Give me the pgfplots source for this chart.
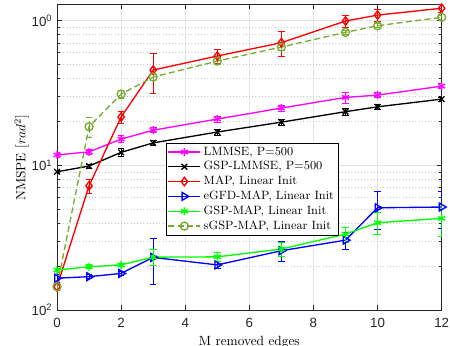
\documentclass[border=0pt]{standalone}
\usepackage{fontspec}
\usepackage{pgfplots}
\usepackage{pgfplotstable}
\pgfplotsset{compat=1.18}
\newfontfamily\ticksans{Liberation Sans}
\definecolor{mag}{RGB}{255,0,255}
\definecolor{oliv}{RGB}{119,172,48}
\definecolor{mgray}{RGB}{38,38,38}

\pgfplotstableread{
x y e
0 0.118 0.004
1 0.124 0.005
2 0.152 0.008
3 0.175 0.007
5 0.209 0.010
7 0.249 0.012
9 0.295 0.025
10 0.306 0.012
12 0.353 0.015
}\lmmse
\pgfplotstableread{
x y e
0 0.0903 0.002
1 0.0989 0.003
2 0.123 0.008
3 0.143 0.006
5 0.170 0.008
7 0.199 0.010
9 0.235 0.014
10 0.254 0.010
12 0.287 0.010
}\gsplmmse
\pgfplotstableread{
x y e
0 0.0145 0.0008
1 0.0722 0.008
2 0.216 0.02
3 0.456 0.14
5 0.570 0.06
7 0.705 0.14
9 0.995 0.10
10 1.094 0.10
12 1.219 0.08
}\map
\pgfplotstableread{
x y e
0 0.0166 0.0010
1 0.0170 0.0005
2 0.0179 0.0005
3 0.0231 0.008
5 0.0205 0.001
7 0.0257 0.004
9 0.0304 0.004
10 0.0509 0.015
12 0.0515 0.015
}\egfd
\pgfplotstableread{
x y e
0 0.0189 0.0006
1 0.0199 0.0006
2 0.0205 0.0006
3 0.0232 0.003
5 0.0233 0.0015
7 0.0264 0.003
9 0.0335 0.004
10 0.0401 0.007
12 0.0430 0.011
}\gspmap
\pgfplotstableread{
x y e
0 0.0145 0.0005
1 0.185 0.03
2 0.311 0.02
3 0.408 0.02
5 0.526 0.03
7 0.658 0.04
9 0.831 0.03
10 0.923 0.03
12 1.056 0.03
}\sgsp

\begin{document}
\begin{tikzpicture}
\begin{axis}[
  name=ax,
  scale only axis,
  width=288.5pt, height=229.5pt,
  ymode=log,
  xmin=0, xmax=12,
  ymin=0.01, ymax=1.305,
  xtick={0,2,4,6,8,10,12},
  xticklabels={0,2,4,6,8,10,12},
  ytick={0.01,0.1,1},
  yticklabels={10\textsuperscript{2},10\textsuperscript{1},10\textsuperscript{0}},
  ticklabel style={font=\ticksans\fontsize{10}{12}\selectfont, text=mgray},
  xticklabel style={yshift=-2.5pt},
  tick align=inside,
  major tick length=3.5pt,
  minor tick length=2pt,
  tick style={mgray, line width=0.5pt},
  axis line style={mgray, line width=0.6pt},
  grid=major,
  yminorgrids=true,
  major grid style={gray!22, line width=0.5pt},
  minor grid style={gray!45, dotted, line width=0.5pt},
  xlabel={M removed edges},
  ylabel={NMSPE [$rad^2$]},
  label style={font=\fontsize{10}{12}\selectfont},
  xlabel style={at={(axis description cs:0.5,0)}, anchor=north, yshift=-16pt},
  ylabel style={at={(axis description cs:-0.092,0.497)}, anchor=center},
  legend style={at={(0.2835,0.5458)}, anchor=north west,
    font=\fontsize{9}{10}\selectfont, draw=black, line width=0.5pt, fill=white,
    inner sep=1pt, row sep=0pt,
    nodes={inner ysep=1.6pt, inner xsep=2pt}},
  legend cell align=left,
  legend image code/.code={\draw[mark repeat=2,mark phase=2] plot coordinates {(0pt,0pt) (12pt,0pt) (24pt,0pt)};},
  every axis plot/.append style={line width=1pt},
  error bars/y dir=both,
  error bars/y explicit,
  error bars/error mark options={rotate=90, mark size=2.5pt, line width=0.7pt},
  error bars/error bar style={line width=0.7pt},
]
\addplot[mag, mark=asterisk, mark size=3pt, mark options={solid}] table[x=x,y=y,y error=e] {\lmmse};
\addlegendentry{LMMSE, P=500}
\addplot[black, mark=x, mark size=3pt, mark options={solid}] table[x=x,y=y,y error=e] {\gsplmmse};
\addlegendentry{GSP-LMMSE, P=500}
\addplot[red, mark=diamond, mark size=3.2pt, mark options={solid}] table[x=x,y=y,y error=e] {\map};
\addlegendentry{MAP, Linear Init}
\addplot[blue, mark=triangle, mark size=3.4pt, mark options={solid, rotate=-90}] table[x=x,y=y,y error=e] {\egfd};
\addlegendentry{eGFD-MAP, Linear Init}
\addplot[green, mark=asterisk, mark size=3pt, mark options={solid}] table[x=x,y=y,y error=e] {\gspmap};
\addlegendentry{GSP-MAP, Linear Init}
\addplot[oliv, dash pattern=on 4.5pt off 2.5pt, mark=o, mark size=3pt, mark options={solid}] table[x=x,y=y,y error=e] {\sgsp};
\addlegendentry{sGSP-MAP, Linear Init}
\end{axis}
\pgfresetboundingbox
\path[use as bounding box] ([xshift=-42.75pt,yshift=-27pt]ax.south west) rectangle ([xshift=6.25pt,yshift=3pt]ax.north east);
\end{tikzpicture}
\end{document}
